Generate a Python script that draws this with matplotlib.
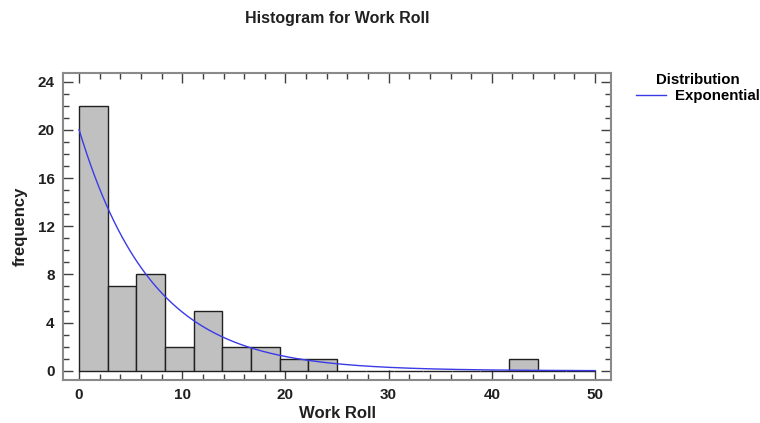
import matplotlib
matplotlib.use("Agg")
import matplotlib.pyplot as plt
import numpy as np
from matplotlib.ticker import MultipleLocator

plt.rcParams['font.family'] = ['Liberation Sans', 'DejaVu Sans']

# histogram: 18 classes between 0 and 50
bin_lo = 0
bin_hi = 50
n_bins = 18
counts = [22, 7, 8, 2, 5, 2, 2, 1, 1, 0, 0, 0, 0, 0, 0, 1, 0, 0]

# fitted exponential distribution (mean)
dist_name = 'Exponential'
fit_mean = 7.08

edges = np.linspace(bin_lo, bin_hi, n_bins + 1)
width = edges[1] - edges[0]
n_obs = sum(counts)

fig = plt.figure(figsize=(7.6, 4.23), dpi=100)
ax = fig.add_axes([0.083, 0.102, 0.721, 0.725])

ax.bar(edges[:-1], counts, width=width, align='edge',
       color='#c0c0c0', edgecolor='#202020', linewidth=1.0, zorder=2)

xs = np.linspace(bin_lo, bin_hi, 400)
ys = n_obs * width * np.exp(-xs / fit_mean) / fit_mean
ax.plot(xs, ys, color='#3a3ae8', linewidth=1.0, label=dist_name, zorder=3)

ax.set_xlim(-1.55, 51.55)
ax.set_ylim(-0.75, 24.7)
ax.xaxis.set_major_locator(MultipleLocator(10))
ax.xaxis.set_minor_locator(MultipleLocator(2))
ax.yaxis.set_major_locator(MultipleLocator(4))
ax.yaxis.set_minor_locator(MultipleLocator(1))
ax.tick_params(which='both', direction='in', top=True, right=True,
               color='#404040', width=1.0)
ax.tick_params(which='major', length=7, labelsize=11, pad=6)
ax.tick_params(which='minor', length=4)
for lab in ax.get_xticklabels() + ax.get_yticklabels():
    lab.set_fontweight('bold')
    lab.set_color('#202020')

for sp in ax.spines.values():
    sp.set_color('#8a8a8a')
    sp.set_linewidth(1.5)

ax.set_title('Histogram for Work Roll', fontsize=11.5, fontweight='bold',
             pad=36, color='#202020')
ax.set_xlabel('Work Roll', fontsize=12, fontweight='bold', labelpad=3,
              color='#202020')
ax.set_ylabel('frequency', fontsize=12, fontweight='bold', labelpad=7,
              color='#202020')

leg = ax.legend(loc='upper left', bbox_to_anchor=(1.035, 1.02), frameon=False,
                title='Distribution', fontsize=10.8, handlelength=2.0,
                handletextpad=0.6, borderaxespad=0, labelspacing=0.15,
                title_fontproperties={'weight': 'bold', 'size': 10.8})
for t in leg.get_texts():
    t.set_fontweight('bold')

fig.savefig('out.png', dpi=100)
